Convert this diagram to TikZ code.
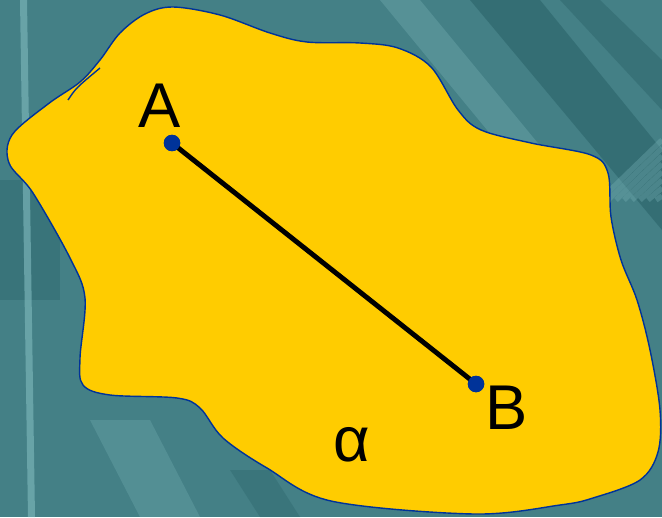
\documentclass[tikz,border=0pt]{standalone}
\usepackage{fontspec}
\setmainfont{Liberation Sans}
\usepackage{tikz}
\definecolor{bgteal}{RGB}{68,128,134}
\definecolor{bgdark}{RGB}{38,94,100}
\definecolor{bglight}{RGB}{120,178,182}
\definecolor{planeyellow}{RGB}{255,204,0}
\definecolor{edgeblue}{RGB}{0,51,153}
\tikzset{
    pointdot/.style={circle, fill=edgeblue, inner sep=0pt, minimum size=0.33cm},
    ptlabel/.style={inner sep=0pt, font=\fontsize{36}{40}\selectfont}
}

\begin{document}
\begin{tikzpicture}[x=0.02cm, y=-0.02cm]
        % background
        \fill [bgteal] (0, 0) rectangle (662, 517);
        \useasboundingbox (0, 0) rectangle (662, 517);
        \fill [bgdark, opacity=0.5] (470, 0) -- (540, 0) -- (662, 150) -- (662, 230) -- cycle;
        \fill [bgdark, opacity=0.4] (560, 0) -- (600, 0) -- (662, 60) -- (662, 110) -- cycle;
        \fill [bglight, opacity=0.35] (380, 0) -- (420, 0) -- (560, 170) -- (520, 170) -- cycle;
        \fill [bgdark, opacity=0.35] (0, 180) rectangle (60, 300);
        \fill [bglight, opacity=0.3] (90, 420) -- (150, 420) -- (200, 517) -- (140, 517) -- cycle;
        \fill [bgdark, opacity=0.3] (230, 470) -- (270, 470) -- (300, 517) -- (260, 517) -- cycle;
        \fill [bglight, opacity=0.7] (20, 0) -- (27, 0) -- (35, 517) -- (28, 517) -- cycle;
        \foreach \k in {0,...,7} {
            \draw [bglight, opacity=0.35, line width=3pt] (600+8*\k, 200) -- (662, 140+8*\k);
        }
        % the plane
        \draw [edgeblue, line width=0.8pt, fill=planeyellow] plot [smooth cycle, tension=0.55] coordinates {
            (173, 7) (220, 15) (270, 33) (307, 42) (360, 43) (398, 48) (431, 67)
            (458, 110) (481, 130) (531, 143) (591, 155) (608, 173) (611, 217)
            (621, 260) (637, 300) (650, 350) (660, 410) (658, 452) (640, 480)
            (593, 498) (560, 505) (474, 514) (331, 501) (267, 468) (223, 438)
            (200, 408) (177, 398) (110, 395) (83, 385) (80, 358) (85, 298)
            (70, 258) (33, 193) (9, 163) (12, 135) (48, 104) (80, 82)
            (100, 60) (120, 33) (145, 14)};
        \coordinate (tickS) at (68, 100);
        \coordinate (tickE) at (100, 68);
        \draw [edgeblue, line width=0.8pt] (tickS) .. controls (76, 88) .. (tickE);
        % points and segment
        \node [pointdot] (ptA) at (172, 143) {};
        \node [pointdot] (ptB) at (476, 384) {};
        \draw [black, line width=2.8pt] (ptA.center) -- (ptB.center);
        \node [pointdot] at (ptA) {};
        \node [pointdot] at (ptB) {};
        \node [ptlabel] (labA) at (160, 106) {A};
        \node [ptlabel] (labB) at (507, 408) {B};
        \node [ptlabel] (alpha) at (352, 445) {α};
    \end{tikzpicture}
\end{document}
